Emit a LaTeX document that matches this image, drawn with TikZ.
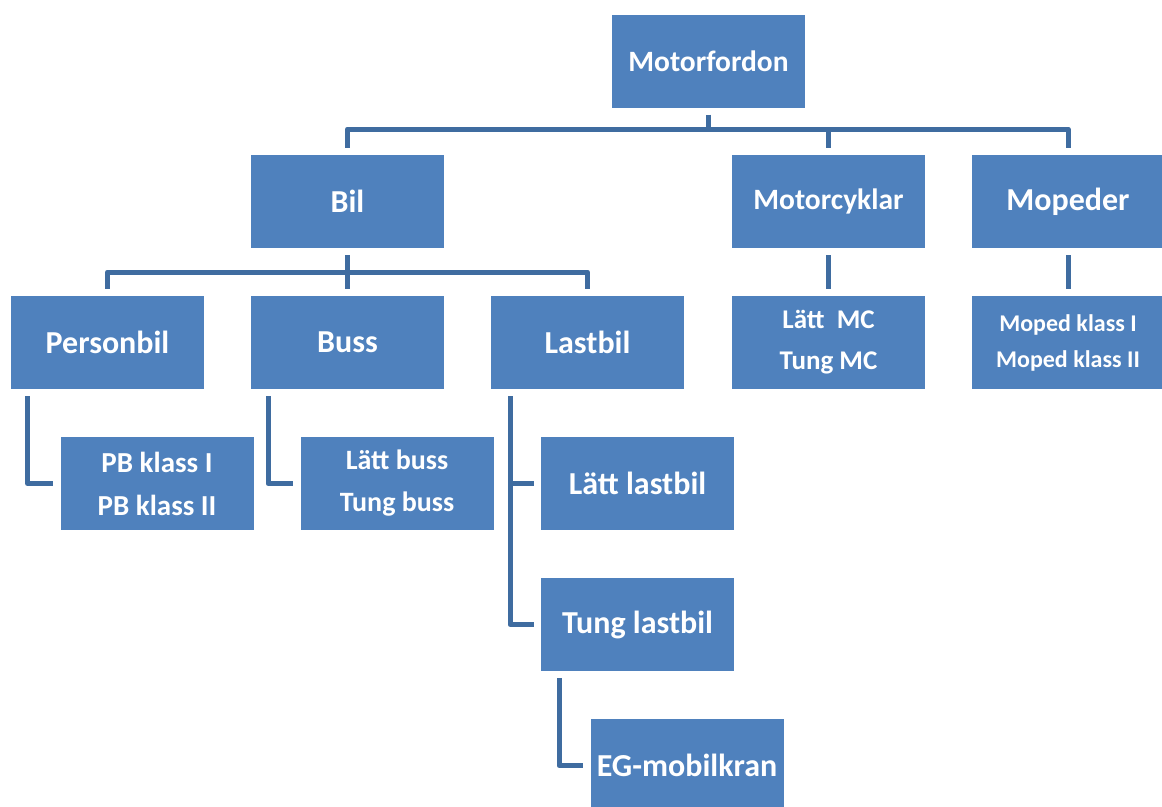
\documentclass[tikz,border=0pt]{standalone}
\usepackage{fontspec}
\setmainfont{Carlito}
\begin{document}
\begin{tikzpicture}[x=1pt,y=-1pt,
  box/.style={fill=boxblue, minimum width=193pt, minimum height=93pt,
    inner sep=0pt, text=white, font=\bfseries\fontsize{32}{38}\selectfont, align=center},
  mid/.style={font=\bfseries\fontsize{29.5}{36}\selectfont},
  fs/.style={font=\bfseries\fontsize{#1}{43}\selectfont},
  link/.style={draw=lineblue, line width=5pt, line cap=butt, line join=round}]
\definecolor{boxblue}{HTML}{4F81BD}
\definecolor{lineblue}{HTML}{3F6CA0}
\useasboundingbox (0,0) rectangle (1162,806);
\begin{scope}
\clip (0,0) rectangle (1162,806);
% level 0
\node[box,mid] (mf) at (708.5,61) {Motorfordon};
% level 1
\node[box] (bil) at (347.5,201.5) {Bil};
\node[box,mid] (mc)  at (828.5,201.5) {Motorcyklar};
\node[box] (mp)  at (1068,201.5) {Mopeder};
% level 2
\node[box] (pb)  at (107.5,342.5) {Personbil};
\node[box] (bu)  at (347.5,342.5) {Buss};
\node[box] (lb)  at (587.5,342.5) {Lastbil};
\node[box,fs=27] (mcs) at (828.5,342.5) {Lätt~~MC\\[-2pt]Tung MC};
\node[box,font=\bfseries\fontsize{24}{36}\selectfont] (mps) at (1068,342.5) {Moped klass I\\Moped klass II};
% level 3
\node[box,fs=29] (pbs) at (157,483.5) {PB klass I\\PB klass II};
\node[box,fs=28] (bus) at (397,483.5) {Lätt buss\\[-1pt]Tung buss};
\node[box] (llb) at (637.5,483.5) {Lätt lastbil};
\node[box] (tlb) at (637.5,624.5) {Tung lastbil};
\node[box] (eg)  at (687,765.5) {EG-mobilkran};
\end{scope}
% joints
\coordinate (j0) at (708.5,129);
\coordinate (j1) at (347.5,272);
% Motorfordon -> level 1
\draw[link] ([yshift=-7pt]mf.south) -- (j0);
\draw[link] ([yshift=7pt]bil.north) |- (j0) -| ([yshift=7pt]mp.north);
\draw[link] (j0 -| mc.north) -- ([yshift=7pt]mc.north);
% Bil -> level 2
\draw[link] ([yshift=-7pt]bil.south) -- (j1);
\draw[link] ([yshift=7pt]pb.north) |- (j1) -| ([yshift=7pt]lb.north);
\draw[link] (j1) -- ([yshift=7pt]bu.north);
% Motorcyklar, Mopeder
\draw[link] ([yshift=-7pt]mc.south) -- ([yshift=7pt]mcs.north);
\draw[link] ([yshift=-7pt]mp.south) -- ([yshift=7pt]mps.north);
% Personbil, Buss
\draw[link] ([shift={(-80pt,-7pt)}]pb.south) |- ([xshift=-7pt]pbs.west);
\draw[link] ([shift={(-79.5pt,-7pt)}]bu.south) |- ([xshift=-7pt]bus.west);
% Lastbil
\draw[link] ([shift={(-77.5pt,-7pt)}]lb.south) |- ([xshift=-7pt]tlb.west);
\draw[link] ([xshift=-77.5pt]lb.south |- llb.west) -- ([xshift=-7pt]llb.west);
% Tung lastbil -> EG-mobilkran
\draw[link] ([shift={(-78.5pt,-7pt)}]tlb.south) |- ([xshift=-7pt]eg.west);
\end{tikzpicture}
\end{document}
